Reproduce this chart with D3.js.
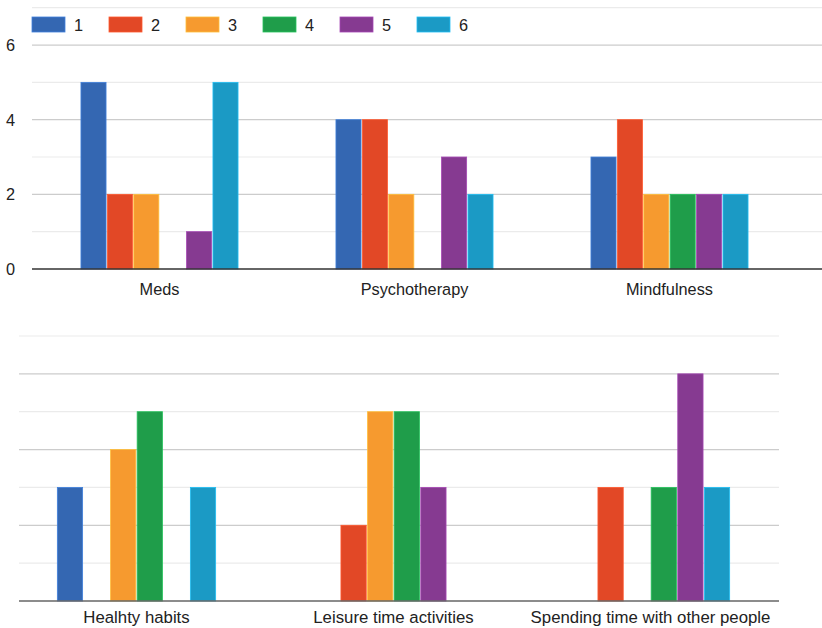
<!DOCTYPE html>
<html>
<head>
<meta charset="utf-8">
<script src="https://cdn.jsdelivr.net/npm/d3@7"></script>
<style>
  html, body { margin: 0; padding: 0; background: #fff; }
  svg { display: block; font-family: Arial, "Liberation Sans", sans-serif; }
</style>
</head>
<body>
<svg id="chart" width="822" height="628"></svg>
<script>
// Categories, split over two panels of three
const topCategories = ["Meds", "Psychotherapy", "Mindfulness"];
const bottomCategories = ["Healhty habits", "Leisure time activities", "Spending time with other people"];

// One array per rating (1..6), values in category order: top panel then bottom panel
const seriesNames = ["1", "2", "3", "4", "5", "6"];
const series1 = [5, 4, 3, 3, 0, 0];
const series2 = [2, 4, 4, 0, 2, 3];
const series3 = [2, 2, 2, 4, 5, 0];
const series4 = [0, 0, 2, 5, 5, 3];
const series5 = [1, 3, 2, 0, 3, 6];
const series6 = [5, 2, 2, 3, 0, 3];

const yTickLabels = [0, 2, 4, 6];
const colors = ["#3467b2", "#e24826", "#f69a2f", "#1f9d4a", "#863a91", "#1b9ac5"];

const allSeries = [series1, series2, series3, series4, series5, series6];
const svg = d3.select("#chart");

function drawPanel(cfg) {
  const g = svg.append("g");
  const x0 = d3.scaleBand().domain(cfg.categories).range(cfg.xRange);
  const groupWidth = x0.bandwidth() * 0.616;
  const x1 = d3.scaleBand().domain(d3.range(6)).range([0, groupWidth]).paddingInner(0.05);
  const y = d3.scaleLinear().domain([0, 7]).range(cfg.yRange);

  // gridlines, even values drawn a shade darker
  g.selectAll("line.grid").data(d3.range(1, 8)).join("line")
    .attr("class", "grid")
    .attr("x1", cfg.gridX[0]).attr("x2", cfg.gridX[1])
    .attr("y1", d => y(d)).attr("y2", d => y(d))
    .attr("stroke", d => d % 2 === 0 ? "#cccccc" : "#ebebeb")
    .attr("stroke-width", 1.2);

  if (cfg.showYLabels) {
    g.selectAll("text.ytick").data(yTickLabels).join("text")
      .attr("class", "ytick")
      .attr("x", 15).attr("y", d => y(d)).attr("dy", "0.36em")
      .attr("text-anchor", "end")
      .attr("fill", "#222").attr("font-size", cfg.fontSize)
      .text(d => d);
  }

  const groups = g.selectAll("g.cat").data(cfg.categories).join("g")
    .attr("class", "cat")
    .attr("transform", d => `translate(${x0(d) + (x0.bandwidth() - groupWidth) / 2},0)`);

  groups.selectAll("rect").data((d, ci) => allSeries.map((s, si) => ({ si, v: s[cfg.offset + ci] })))
    .join("rect")
    .filter(d => d.v > 0)
    .attr("x", d => x1(d.si))
    .attr("width", x1.bandwidth())
    .attr("y", d => y(d.v))
    .attr("height", d => y(0) - y(d.v))
    .attr("fill", d => colors[d.si])
    .attr("stroke", d => d3.color(colors[d.si]).brighter(0.6))
    .attr("stroke-width", 0.8);

  // baseline
  g.append("line")
    .attr("x1", cfg.gridX[0]).attr("x2", cfg.gridX[1])
    .attr("y1", y(0)).attr("y2", y(0))
    .attr("stroke", cfg.baseColor).attr("stroke-width", 1.3);

  // category labels
  g.selectAll("text.cat").data(cfg.categories).join("text")
    .attr("class", "cat")
    .attr("x", d => x0(d) + x0.bandwidth() / 2)
    .attr("y", cfg.labelY)
    .attr("text-anchor", "middle")
    .attr("fill", "#222").attr("font-size", cfg.fontSize)
    .text(d => d);
}

drawPanel({
  categories: topCategories, offset: 0,
  xRange: [32, 797], yRange: [269, 7.7], gridX: [32, 822],
  showYLabels: true, baseColor: "#333", labelY: 295, fontSize: 16.3
});

drawPanel({
  categories: bottomCategories, offset: 3,
  xRange: [8, 779], yRange: [601, 336], gridX: [19, 779],
  showYLabels: false, baseColor: "#666", labelY: 623, fontSize: 16.8
});

// legend
const legend = svg.append("g").selectAll("g").data(seriesNames).join("g")
  .attr("transform", (d, i) => `translate(${32 + i * 77},17)`);
legend.append("rect")
  .attr("width", 33).attr("height", 15)
  .attr("fill", (d, i) => colors[i])
  .attr("stroke", (d, i) => d3.color(colors[i]).brighter(0.6))
  .attr("stroke-width", 0.8);
legend.append("text")
  .attr("x", 42).attr("y", 8).attr("dy", "0.36em")
  .attr("fill", "#222").attr("font-size", 16.3)
  .text(d => d);
</script>
</body>
</html>
